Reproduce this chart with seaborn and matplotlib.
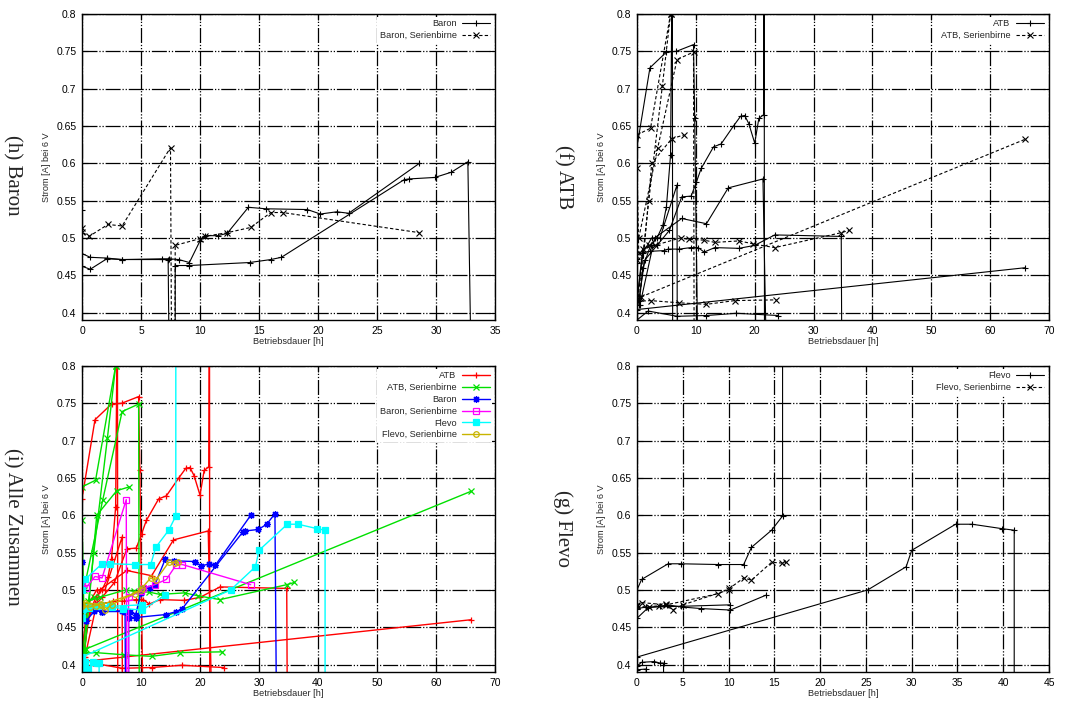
import matplotlib
matplotlib.use("Agg")
import matplotlib.pyplot as plt
import seaborn as sns
import pandas as pd
from matplotlib.lines import Line2D

# Betriebsdauer [h] / Strom [A] per measurement run (0.0 = lamp failed, 0.9 = off scale)
BARON_X = [
    [0, 0.7, 2.1, 3.4, 6.8, 7.4, 8.2, 9.1, 10.0, 10.4, 11.5, 12.3, 14.1, 15.6, 19.1, 20.2, 21.6, 22.6, 28.6],
    [0, 0, 0.7, 2.1, 3.4, 7.3, 7.6],
    [7.9, 7.9, 9.1, 14.2, 16.0, 16.9, 27.3, 27.7, 29.9, 31.3, 32.7, 33.3],
]
BARON_Y = [
    [0.479, 0.474, 0.473, 0.471, 0.472, 0.472, 0.471, 0.467, 0.496, 0.503, 0.503, 0.506, 0.541, 0.539, 0.538, 0.532, 0.535, 0.533, 0.600],
    [0.538, 0.462, 0.458, 0.472, 0.471, 0.471, 0.0],
    [0.0, 0.463, 0.463, 0.467, 0.471, 0.474, 0.578, 0.579, 0.581, 0.588, 0.602, 0.0],
]
BARON_S_X = [
    [0, 0, 0.6, 2.2, 3.4, 7.5, 7.7],
    [7.8, 7.9, 10.0, 10.4, 12.3, 14.3, 16.0, 17.0, 28.6],
]
BARON_S_Y = [
    [0.513, 0.508, 0.502, 0.518, 0.516, 0.621, 0.0],
    [0.0, 0.490, 0.499, 0.502, 0.507, 0.514, 0.534, 0.534, 0.507],
]

ATB_X = [
    [0, 2.2, 5.0, 6.7, 9.6, 9.8, 10.9],
    [0, 0.9, 2.2, 4.6, 5.3, 7.2, 9.1, 10.4, 11.4, 13.2, 17.3, 20.0, 23.4, 34.7, 35.0],
    [0.3, 1.0, 2.3, 3.4, 4.4, 5.0, 5.7, 6.0, 6.1],
    [0, 1.0, 2.5, 3.9, 6.8, 6.9],
    [0.3, 1.3, 3.4, 5.5, 7.6, 9.2, 10.1, 10.9, 13.0, 14.3, 16.4, 17.6, 18.3, 19.0, 20.0, 20.7, 21.5, 21.6, 21.7],
    [0.5, 3.0, 7.6, 11.8, 15.5, 21.4, 22.8],
    [0, 1.9, 6.8, 11.8, 16.9, 24.0],
    [0, 65.9],
    [0, 0],
]
ATB_Y = [
    [0.622, 0.728, 0.749, 0.750, 0.759, 0.660, 0.0],
    [0.415, 0.480, 0.482, 0.483, 0.485, 0.485, 0.487, 0.487, 0.481, 0.487, 0.486, 0.490, 0.504, 0.502, 0.0],
    [0.410, 0.460, 0.490, 0.500, 0.517, 0.542, 0.611, 0.9, 0.0],
    [0.415, 0.480, 0.500, 0.500, 0.571, 0.0],
    [0.415, 0.470, 0.490, 0.510, 0.555, 0.556, 0.575, 0.593, 0.622, 0.626, 0.650, 0.663, 0.664, 0.653, 0.627, 0.660, 0.665, 0.9, 0.0],
    [0.410, 0.500, 0.526, 0.519, 0.567, 0.579, 0.0],
    [0.390, 0.402, 0.395, 0.396, 0.399, 0.396],
    [0.404, 0.460],
    [0.472, 0.466],
]
ATB_S_X = [
    [0, 2.3, 5.7],
    [0.2, 2.0, 4.3, 5.7],
    [0.5, 2.5, 5.9, 8.0],
    [0.3, 3.5, 6.8, 9.6, 9.8],
    [0, 1.0, 3.0, 7.4, 8.8, 11.4, 13.2, 17.4, 19.7, 23.4, 34.7, 36.0],
    [0.7, 65.9],
    [0, 2.3, 7.2, 11.8, 16.6, 23.7],
    [0, 0.3, 2.0],
]
ATB_S_Y = [
    [0.638, 0.647, 0.800],
    [0.420, 0.550, 0.703, 0.800],
    [0.420, 0.600, 0.633, 0.638],
    [0.500, 0.620, 0.739, 0.749, 0.0],
    [0.470, 0.485, 0.490, 0.500, 0.498, 0.497, 0.494, 0.496, 0.492, 0.487, 0.507, 0.510],
    [0.421, 0.632],
    [0.415, 0.416, 0.413, 0.411, 0.416, 0.417],
    [0.594, 0.480, 0.490],
]

FLEVO_X = [
    [0, 0.5, 3.4, 4.8, 8.9, 11.65, 12.5, 14.7, 15.9, 15.9],
    [0, 1.2, 2.5, 3.3, 5.0, 7.0, 10.2, 14.1],
    [0, 1.0, 4.8, 10.2],
    [0, 25.2, 29.4, 30.0, 34.8, 36.6, 39.9, 41.2, 41.2],
    [0, 0.5, 1.9, 2.5, 2.9, 2.9],
    [0, 1.0, 1.0],
]
FLEVO_Y = [
    [0.500, 0.514, 0.535, 0.535, 0.534, 0.534, 0.557, 0.580, 0.599, 0.9],
    [0.462, 0.476, 0.478, 0.480, 0.477, 0.475, 0.473, 0.493],
    [0.475, 0.477, 0.478, 0.480],
    [0.410, 0.500, 0.531, 0.553, 0.588, 0.588, 0.582, 0.580, 0.0],
    [0.398, 0.403, 0.404, 0.402, 0.402, 0.0],
    [0.393, 0.394, 0.0],
]
FLEVO_S_X = [
    [0, 0.5, 3.2, 8.9, 10.1, 11.65, 12.5, 14.7, 15.8, 16.3],
    [0, 1.3, 2.4, 3.2, 3.9, 5.0, 10.0],
]
FLEVO_S_Y = [
    [0.480, 0.483, 0.480, 0.495, 0.502, 0.516, 0.513, 0.537, 0.536, 0.537],
    [0.478, 0.477, 0.479, 0.481, 0.473, 0.480, 0.500],
]

Y_TICKS = [0.4, 0.45, 0.5, 0.55, 0.6, 0.65, 0.7, 0.75, 0.8]
Y_TICK_LABELS = ["0.4", "0.45", "0.5", "0.55", "0.6", "0.65", "0.7", "0.75", "0.8"]
BARON_XTICKS = [0, 5, 10, 15, 20, 25, 30, 35]
ATB_XTICKS = [0, 10, 20, 30, 40, 50, 60, 70]
FLEVO_XTICKS = [0, 5, 10, 15, 20, 25, 30, 35, 40, 45]


def to_frame(xs, ys):
    rows = []
    for run, (rx, ry) in enumerate(zip(xs, ys)):
        for x, y in zip(rx, ry):
            rows.append({"t": x, "i": y, "run": run})
    return pd.DataFrame(rows)


SERIES = {
    "ATB": to_frame(ATB_X, ATB_Y),
    "ATB, Serienbirne": to_frame(ATB_S_X, ATB_S_Y),
    "Baron": to_frame(BARON_X, BARON_Y),
    "Baron, Serienbirne": to_frame(BARON_S_X, BARON_S_Y),
    "Flevo": to_frame(FLEVO_X, FLEVO_Y),
    "Flevo, Serienbirne": to_frame(FLEVO_S_X, FLEVO_S_Y),
}

# colour, marker, face colour, size for the combined panel
ALL_STYLE = {
    "ATB": ("#ff0000", "+", "#ff0000", 5),
    "ATB, Serienbirne": ("#00e000", "x", "#00e000", 4),
    "Baron": ("#0000ff", (8, 2, 0), "#0000ff", 5),
    "Baron, Serienbirne": ("#ff00ff", "s", "none", 4.5),
    "Flevo": ("#00ffff", "s", "#00ffff", 4.5),
    "Flevo, Serienbirne": ("#c8b400", "o", "none", 4),
}

sns.set_style("ticks")
plt.rcParams["font.family"] = ["Liberation Sans", "DejaVu Sans"]

fig = plt.figure(figsize=(10.89, 7.05), dpi=100)
W, H = 1089, 705


def make_axes(left, top, right, bottom):
    return fig.add_axes([left / W, 1 - bottom / H, (right - left) / W, (bottom - top) / H])


def style_axes(ax, xmax, xticks):
    ax.set_xlim(0, xmax)
    ax.set_ylim(0.39, 0.8)
    ax.set_xticks(xticks)
    ax.set_xticklabels([str(t) for t in xticks])
    ax.set_yticks(Y_TICKS)
    ax.set_yticklabels(Y_TICK_LABELS)
    ax.set_axisbelow(True)
    ax.grid(True, color="black", lw=0.9, linestyle=(0, (12, 1.5, 1, 1.5, 1, 1.5)))
    ax.tick_params(direction="in", top=True, right=True, length=4, width=0.8,
                   labelsize=7.5, colors="black", pad=4)
    for s in ax.spines.values():
        s.set_color("black")
        s.set_linewidth(1.0)
    ax.set_xlabel("Betriebsdauer [h]", fontsize=6.6)
    ax.set_ylabel("Strom [A] bei 6 V", fontsize=6.6)
    ax.xaxis.set_label_coords(0.5, -0.055)
    ax.yaxis.set_label_coords(-0.075, 0.5)


def add_legend(ax, handles, labels):
    leg = ax.legend(handles, labels, loc="upper right", markerfirst=False,
                    prop={"family": "Liberation Sans", "size": 6.6},
                    frameon=True, framealpha=1, facecolor="white", edgecolor="none",
                    fancybox=False, handlelength=3.0, handletextpad=0.6,
                    labelspacing=0.3, borderpad=0.3, borderaxespad=0.3)
    for col in leg._legend_handle_box.get_children():
        col.align = "right"


def bw_panel(ax, name):
    handles = []
    for label, dashed, marker in [(name, False, "+"), (name + ", Serienbirne", True, "x")]:
        ls = (0, (3, 2)) if dashed else "-"
        ms = 5 if marker == "+" else 4
        sns.lineplot(data=SERIES[label], x="t", y="i", units="run", estimator=None,
                     sort=False, color="black", lw=0.8, linestyle=ls, marker=marker,
                     markersize=ms, markeredgewidth=0.8, markeredgecolor="black",
                     legend=False, ax=ax)
        handles.append(Line2D([], [], color="black", lw=0.8, linestyle=ls, marker=marker,
                              markersize=ms, markeredgewidth=0.8, markeredgecolor="black"))
    # keep every trace of the single-lamp panels black
    for line in ax.lines:
        line.set_color("black")
        line.set_markeredgecolor("black")
    add_legend(ax, handles, [name, name + ", Serienbirne"])


ax_baron = make_axes(82, 14, 495, 320)
bw_panel(ax_baron, "Baron")
style_axes(ax_baron, 35, BARON_XTICKS)

ax_atb = make_axes(637, 14, 1049, 320)
bw_panel(ax_atb, "ATB")
style_axes(ax_atb, 70, ATB_XTICKS)

ax_flevo = make_axes(637, 366, 1049, 672)
bw_panel(ax_flevo, "Flevo")
style_axes(ax_flevo, 45, FLEVO_XTICKS)

ax_all = make_axes(82, 366, 495, 672)
handles = []
for label, (color, marker, face, ms) in ALL_STYLE.items():
    sns.lineplot(data=SERIES[label], x="t", y="i", units="run", estimator=None,
                 sort=False, color=color, lw=1.0, marker=marker, markersize=ms,
                 markerfacecolor=face, markeredgecolor=color, markeredgewidth=0.9,
                 legend=False, ax=ax_all)
    handles.append(Line2D([], [], color=color, lw=1.0, marker=marker,
                          markersize=ms, markerfacecolor=face, markeredgecolor=color,
                          markeredgewidth=0.9))
add_legend(ax_all, handles, list(ALL_STYLE.keys()))
style_axes(ax_all, 70, ATB_XTICKS)

captions = [("(h) Baron", 12, 175), ("(f) ATB", 563, 177),
            ("(i) Alle Zusammen", 12, 527), ("(g) Flevo", 563, 529)]
for text, cx, cy in captions:
    fig.text(cx / W, 1 - cy / H, text, rotation=-90, ha="center", va="center",
             family=["Liberation Serif", "DejaVu Serif"], fontsize=15)

fig.savefig("out.png", dpi=100)
